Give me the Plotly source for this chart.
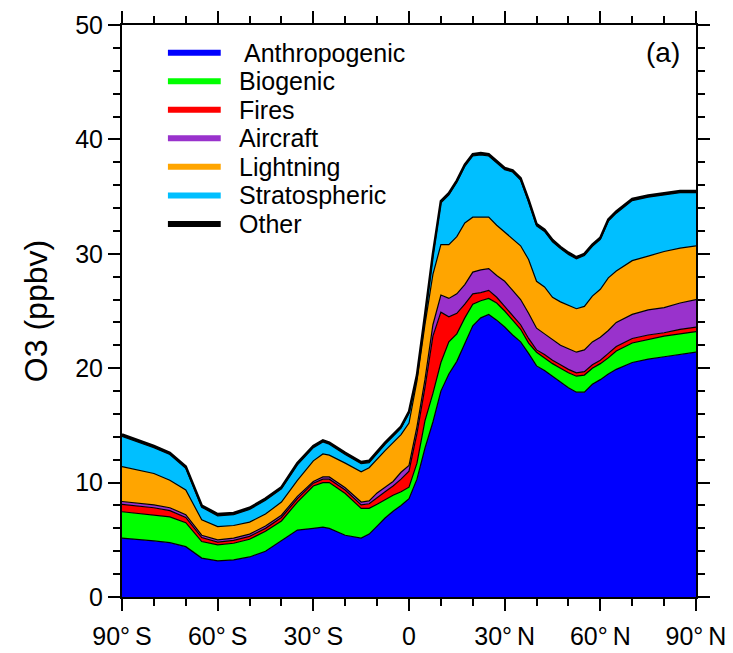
import plotly.graph_objects as go

# Latitude grid (degrees, negative = south)
lat = [-90, -85, -80, -75, -70, -65, -60, -55, -50, -45, -40, -35, -30, -27, -25,
       -20, -15, -12.5, -10, -7.5, -5, -2.5, 0, 2.5, 5, 7.5, 10, 12.5, 15, 17.5,
       20, 22.5, 25, 27.5, 30, 32.5, 35, 37.5, 40, 42.5, 45, 47.5, 50, 52.5, 55,
       57.5, 60, 62.5, 65, 70, 75, 80, 85, 90]

# O3 contributions (ppbv)
anthropogenic = [5.15, 5.05, 4.90, 4.75, 4.40, 3.40, 3.15, 3.25, 3.50, 4.00, 4.95, 5.85, 6.00, 6.10, 6.00,
                 5.40, 5.15, 5.50, 6.20, 6.90, 7.50, 8.00, 8.60, 10.30, 13.00, 15.30, 18.00, 19.50, 20.60, 22.20,
                 23.70, 24.40, 24.70, 24.20, 23.60, 22.90, 22.30, 21.30, 20.20, 19.80, 19.30, 18.80, 18.30, 17.90, 17.90,
                 18.60, 19.00, 19.50, 19.90, 20.50, 20.80, 21.00, 21.20, 21.40]
biogenic = [2.30, 2.25, 2.30, 2.25, 2.10, 1.45, 1.40, 1.45, 1.55, 1.75, 1.70, 2.45, 3.70, 3.90, 4.00,
            3.65, 2.60, 2.25, 1.90, 1.60, 1.40, 1.20, 1.00, 1.40, 2.40, 2.50, 2.50, 2.80, 2.40, 2.20,
            1.90, 1.50, 1.40, 1.50, 1.40, 1.30, 1.10, 0.90, 1.20, 1.10, 1.10, 1.20, 1.30, 1.40, 1.50,
            1.40, 1.40, 1.40, 1.60, 1.70, 1.70, 1.80, 1.80, 1.80]
fires = [0.65, 0.65, 0.60, 0.55, 0.45, 0.35, 0.25, 0.25, 0.25, 0.25, 0.30, 0.30, 0.25, 0.30, 0.30,
         0.30, 0.30, 0.40, 0.60, 0.70, 0.80, 1.10, 1.40, 2.60, 2.90, 5.00, 4.40, 2.20, 1.80, 1.20,
         0.90, 0.70, 0.70, 0.50, 0.40, 0.40, 0.40, 0.40, 0.20, 0.30, 0.30, 0.30, 0.30, 0.30, 0.30,
         0.30, 0.30, 0.40, 0.40, 0.40, 0.40, 0.30, 0.40, 0.40]
aircraft = [0.25, 0.25, 0.25, 0.25, 0.25, 0.20, 0.20, 0.20, 0.20, 0.20, 0.20, 0.20, 0.15, 0.20, 0.20,
            0.20, 0.25, 0.25, 0.40, 0.40, 0.40, 0.60, 0.50, 0.60, 0.70, 1.00, 1.50, 1.60, 1.70, 1.70,
            1.90, 2.00, 1.90, 1.90, 2.20, 2.20, 2.20, 2.20, 1.90, 1.80, 1.80, 1.70, 1.80, 1.80, 1.90,
            2.00, 2.00, 2.00, 2.10, 2.10, 2.20, 2.20, 2.30, 2.40]
lightning = [3.05, 2.90, 2.75, 2.40, 2.15, 1.35, 1.15, 1.10, 1.05, 1.05, 1.15, 1.40, 1.80, 2.00, 1.90,
             2.15, 2.65, 2.90, 3.00, 3.20, 3.40, 3.30, 3.70, 4.00, 4.80, 4.40, 4.40, 4.70, 5.00, 5.40,
             4.80, 4.60, 4.50, 4.40, 4.30, 4.50, 4.70, 4.70, 4.10, 4.10, 3.70, 3.80, 3.80, 3.80, 3.80,
             4.00, 4.20, 4.60, 4.50, 4.70, 4.70, 4.90, 4.80, 4.70]
stratospheric = [2.65, 2.45, 2.25, 2.25, 1.90, 1.10, 0.95, 0.95, 1.10, 1.20, 1.15, 1.35, 1.15, 1.05, 0.95,
                 0.75, 0.70, 0.45, 0.45, 0.55, 0.55, 0.55, 0.85, 0.35, 0.65, 1.65, 3.65, 4.35, 4.75, 4.95,
                 5.35, 5.45, 5.35, 5.45, 5.45, 5.85, 5.75, 5.05, 4.85, 4.85, 4.85, 4.65, 4.45, 4.35, 4.45,
                 4.35, 4.35, 4.95, 5.05, 5.25, 5.15, 4.95, 4.85, 4.65]
other = [0.15] * len(lat)

series_names = ["Anthropogenic", "Biogenic", "Fires", "Aircraft", "Lightning", "Stratospheric", "Other"]
series_values = [anthropogenic, biogenic, fires, aircraft, lightning, stratospheric, other]
series_colors = ["#0000FF", "#00FF00", "#FF0000", "#9932CC", "#FFA500", "#00BFFF", "#000000"]

xtick_vals = [-90, -60, -30, 0, 30, 60, 90]
xtick_text = ["90°\u2009S", "60°\u2009S", "30°\u2009S", "0", "30°\u2009N", "60°\u2009N", "90°\u2009N"]

FONT = "Liberation Sans, Arial, Helvetica, sans-serif"

fig = go.Figure()
for name, vals, col in zip(series_names, series_values, series_colors):
    fig.add_trace(go.Scatter(
        x=lat, y=vals, name=name, mode="lines", stackgroup="o3",
        line=dict(color="black", width=2.5 if name == "Other" else 1.2),
        fillcolor=col, showlegend=False, hoverinfo="x+y+name",
    ))

# Manual legend (line samples + labels), placed in paper coordinates
leg_y0 = 0.9516
leg_dy = 0.0499
shapes = []
annotations = []
for i, (name, col) in enumerate(zip(series_names, series_colors)):
    yy = leg_y0 - i * leg_dy
    shapes.append(dict(type="line", xref="paper", yref="paper",
                       x0=0.080, x1=0.172, y0=yy, y1=yy,
                       line=dict(color=col, width=6)))
    annotations.append(dict(xref="paper", yref="paper", x=0.2009 + (0.008 if i == 0 else 0),
                            y=yy, text=name, showarrow=False, xanchor="left",
                            yanchor="middle", font=dict(family=FONT, size=25, color="black")))
annotations.append(dict(xref="paper", yref="paper", x=0.976, y=0.952, text="(a)",
                        showarrow=False, xanchor="right", yanchor="middle",
                        font=dict(family=FONT, size=28, color="black")))

axis_common = dict(showline=True, linecolor="black", linewidth=2, mirror="allticks",
                   ticks="outside", ticklen=12, tickwidth=2, tickcolor="black",
                   showgrid=False, zeroline=False, automargin=False,
                   tickfont=dict(family=FONT, size=25, color="black"))

fig.update_xaxes(range=[-90, 90], tickvals=xtick_vals, ticktext=xtick_text,
                 ticklabelstandoff=4,
                 minor=dict(tickvals=list(range(-80, 90, 10)), ticklen=7, tickwidth=1.5,
                            tickcolor="black", ticks="outside"),
                 **axis_common)
fig.update_yaxes(range=[0, 50], tick0=0, dtick=10,
                 minor=dict(dtick=2, ticklen=7, tickwidth=1.5, tickcolor="black", ticks="outside"),
                 title=dict(text="O3 (ppbv)", font=dict(family=FONT, size=32, color="black"),
                            standoff=18),
                 **axis_common)

# page body has an 8px margin, so the figure is 725x645 and starts at (8, 8)
fig.update_layout(
    width=725, height=645,
    margin=dict(l=114, r=37, t=17, b=56, autoexpand=False),
    paper_bgcolor="white", plot_bgcolor="white",
    shapes=shapes, annotations=annotations,
    showlegend=False,
    font=dict(family=FONT, color="black"),
)

fig.write_html("out.html")
